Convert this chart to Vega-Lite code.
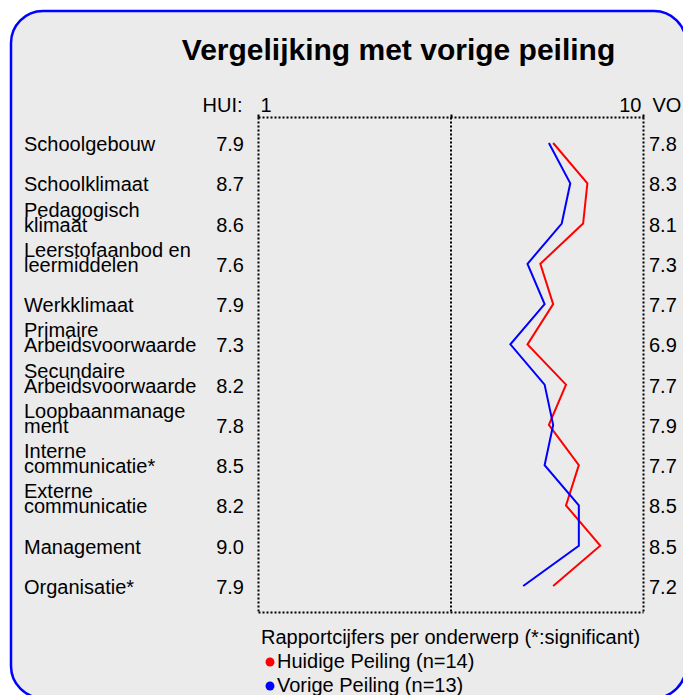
{
  "$schema": "https://vega.github.io/schema/vega-lite/v6.json",
  "autosize": "none",
  "width": 675,
  "height": 687,
  "padding": {"left": 11, "top": 11, "right": 0, "bottom": 0},
  "background": "white",
  "title": {
    "text": "Vergelijking met vorige peiling",
    "fontSize": 30,
    "fontWeight": "bold",
    "font": "Liberation Sans",
    "color": "black",
    "anchor": "middle",
    "frame": "group",
    "dx": 50,
    "offset": -55
  },
  "data": {
    "values": [
      {"onderwerp": "Schoolgebouw", "hui": 7.9, "vo": 7.8},
      {"onderwerp": "Schoolklimaat", "hui": 8.7, "vo": 8.3},
      {"onderwerp": "Pedagogisch\nklimaat", "hui": 8.6, "vo": 8.1},
      {"onderwerp": "Leerstofaanbod en\nleermiddelen", "hui": 7.6, "vo": 7.3},
      {"onderwerp": "Werkklimaat", "hui": 7.9, "vo": 7.7},
      {"onderwerp": "Primaire\nArbeidsvoorwaarde", "hui": 7.3, "vo": 6.9},
      {"onderwerp": "Secundaire\nArbeidsvoorwaarde", "hui": 8.2, "vo": 7.7},
      {"onderwerp": "Loopbaanmanage\nment", "hui": 7.8, "vo": 7.9},
      {"onderwerp": "Interne\ncommunicatie*", "hui": 8.5, "vo": 7.7},
      {"onderwerp": "Externe\ncommunicatie", "hui": 8.2, "vo": 8.5},
      {"onderwerp": "Management", "hui": 9.0, "vo": 8.5},
      {"onderwerp": "Organisatie*", "hui": 7.9, "vo": 7.2}
    ]
  },
  "resolve": {"axis": {"x": "independent", "y": "independent"}},
  "layer": [
    {
      "mark": {"type": "line", "strokeWidth": 2, "clip": false},
      "encoding": {
        "x": {
          "field": "hui", "type": "quantitative",
          "scale": {"domain": [1, 10], "range": [247, 632], "nice": false, "zero": false},
          "axis": {
            "orient": "top", "offset": -106, "values": [1, 5.5, 10],
            "labelExpr": "datum.value == 5.5 ? '' : datum.label",
            "labelFlush": true, "labelFlushOffset": -2,
            "labelFontSize": 20, "labelFont": "Liberation Sans", "labelColor": "black",
            "labelPadding": 3, "labelBaseline": "alphabetic",
            "ticks": true, "tickSize": 3, "tickWidth": 2, "tickColor": "black",
            "domain": true, "domainColor": "black", "domainWidth": 2, "domainDash": [2, 2],
            "grid": false,
            "title": "HUI:", "titleX": 231, "titleY": -6, "titleAlign": "right",
            "titleBaseline": "alphabetic", "titleFontSize": 20, "titleFontWeight": "normal",
            "titleFont": "Liberation Sans", "titleColor": "black", "titleAngle": 0
          }
        },
        "y": {
          "field": "onderwerp", "type": "nominal", "sort": null,
          "scale": {"type": "point", "range": [106, 601], "padding": 0.646},
          "axis": {
            "orient": "left", "offset": -247, "labels": false, "ticks": false,
            "domain": true, "domainColor": "black", "domainWidth": 2, "domainDash": [2, 2],
            "grid": false, "title": null
          }
        },
        "color": {
          "datum": "Huidige Peiling (n=14)",
          "scale": {"domain": ["Huidige Peiling (n=14)", "Vorige Peiling (n=13)"], "range": ["#ff0000", "#0000ff"]},
          "legend": {
            "orient": "none", "legendX": 250, "legendY": 617, "padding": 0,
            "title": "Rapportcijfers per onderwerp (*:significant)",
            "titleFontSize": 20, "titleFontWeight": "normal", "titleFont": "Liberation Sans", "titleColor": "black",
            "titlePadding": 4, "titleLimit": 600,
            "labelFontSize": 20, "labelFont": "Liberation Sans", "labelColor": "black", "labelOffset": -3, "labelLimit": 600,
            "symbolType": "circle", "symbolSize": 80, "rowPadding": 4, "symbolOffset": -1,
            "encode": {"symbols": {"update": {"fill": {"scale": "color", "field": "value"}, "stroke": {"value": "transparent"}, "strokeWidth": {"value": 0}}}}
          }
        },
        "order": {"value": null}
      }
    },
    {
      "mark": {"type": "line", "strokeWidth": 2, "clip": false},
      "encoding": {
        "x": {
          "field": "vo", "type": "quantitative",
          "axis": {
            "orient": "bottom", "offset": -86, "labels": false, "ticks": false,
            "domain": true, "domainColor": "black", "domainWidth": 2, "domainDash": [2, 2],
            "grid": false,
            "title": "VO:", "titleX": 641, "titleY": -501, "titleAlign": "left",
            "titleBaseline": "alphabetic", "titleFontSize": 20, "titleFontWeight": "normal",
            "titleFont": "Liberation Sans", "titleColor": "black", "titleAngle": 0
          }
        },
        "y": {
          "field": "onderwerp", "type": "nominal", "sort": null,
          "axis": {
            "orient": "right", "offset": -43, "labels": false, "ticks": false,
            "domain": true, "domainColor": "black", "domainWidth": 2, "domainDash": [2, 2],
            "grid": false, "title": null
          }
        },
        "color": {"datum": "Vorige Peiling (n=13)"},
        "order": {"value": null}
      }
    },
    {
      "mark": {"type": "text", "align": "left", "baseline": "alphabetic", "dx": -234, "dy": 8, "fontSize": 20, "font": "Liberation Sans", "color": "black"},
      "encoding": {
        "x": {"datum": 1, "type": "quantitative", "axis": null},
        "y": {
          "field": "onderwerp", "type": "nominal", "sort": null,
          "axis": {
            "orient": "left", "offset": -439.5, "labels": false, "ticks": false,
            "domain": true, "domainColor": "black", "domainWidth": 2, "domainDash": [2, 2],
            "grid": false, "title": null
          }
        },
        "text": {
          "condition": {"test": "indexof(datum.onderwerp, '\\n') < 0", "field": "onderwerp"},
          "value": ""
        }
      }
    },
    {
      "mark": {"type": "text", "align": "left", "baseline": "alphabetic", "dx": -234, "dy": -7, "lineBreak": "\n", "lineHeight": 15, "fontSize": 20, "font": "Liberation Sans", "color": "black"},
      "encoding": {
        "x": {"datum": 1, "type": "quantitative", "axis": null},
        "y": {"field": "onderwerp", "type": "nominal", "sort": null, "axis": null},
        "text": {
          "condition": {"test": "indexof(datum.onderwerp, '\\n') >= 0", "field": "onderwerp"},
          "value": ""
        }
      }
    },
    {
      "mark": {"type": "text", "align": "right", "baseline": "alphabetic", "dx": -14, "dy": 8, "fontSize": 20, "font": "Liberation Sans", "color": "black"},
      "encoding": {
        "x": {"datum": 1, "type": "quantitative", "axis": null},
        "y": {"field": "onderwerp", "type": "nominal", "sort": null, "axis": null},
        "text": {"field": "hui", "type": "quantitative", "format": ".1f"}
      }
    },
    {
      "mark": {"type": "text", "align": "left", "baseline": "alphabetic", "dx": 6, "dy": 8, "fontSize": 20, "font": "Liberation Sans", "color": "black"},
      "encoding": {
        "x": {"datum": 10, "type": "quantitative", "axis": null},
        "y": {"field": "onderwerp", "type": "nominal", "sort": null, "axis": null},
        "text": {"field": "vo", "type": "quantitative", "format": ".1f"}
      }
    }
  ],
  "config": {
    "font": "Liberation Sans",
    "view": {"fill": "#ebebeb", "stroke": "#0000ff", "strokeWidth": 2.5, "cornerRadius": 32}
  }
}
